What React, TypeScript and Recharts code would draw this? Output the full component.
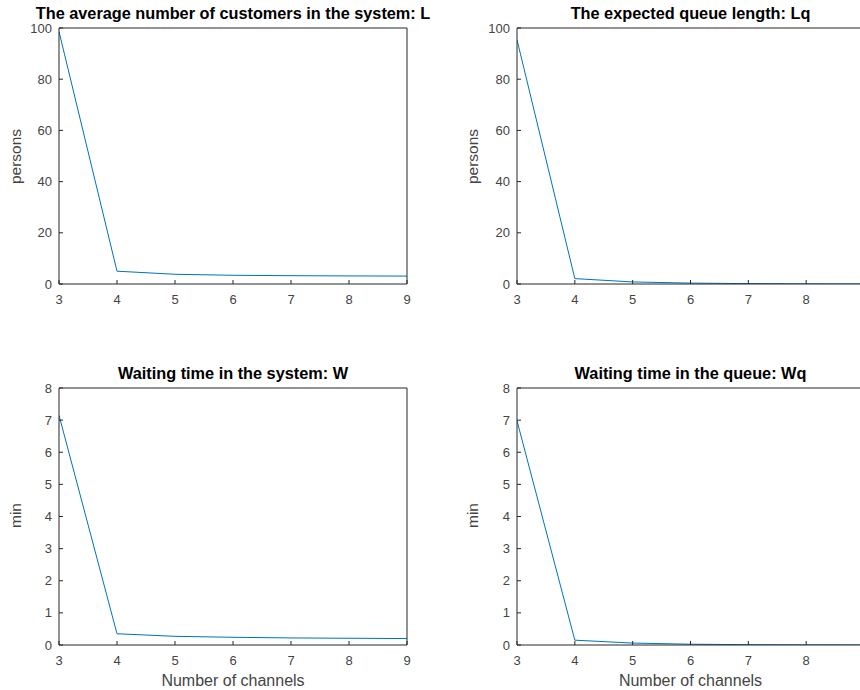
import React from 'react';
import { LineChart, Line, XAxis, YAxis } from 'recharts';

const channels = [3, 4, 5, 6, 7, 8, 9];
const avgCustomers = [98.6, 5.0, 3.8, 3.4, 3.25, 3.15, 3.1];
const queueLength = [95.4, 2.1, 0.8, 0.35, 0.15, 0.05, 0.02];
const waitSystem = [7.15, 0.35, 0.27, 0.24, 0.22, 0.21, 0.2];
const waitQueue = [6.98, 0.15, 0.06, 0.025, 0.01, 0.004, 0.001];

const xTicks = [3, 4, 5, 6, 7, 8, 9];
const personTicks = [0, 20, 40, 60, 80, 100];
const minuteTicks = [0, 1, 2, 3, 4, 5, 6, 7, 8];

const titles = [
  'The average number of customers in the system: L',
  'The expected queue length: Lq',
  'Waiting time in the system: W',
  'Waiting time in the queue: Wq',
];
const yLabels = ['persons', 'persons', 'min', 'min'];
const xLabel = 'Number of channels';

const FONT = '"Liberation Sans", Arial, Helvetica, sans-serif';
const AXIS = '#262626';
const TICKTXT = '#444444';
const LINE = '#0072BD';

const build = (vals: number[]) => channels.map((c, i) => ({ x: c, y: vals[i] }));

type PanelProps = {
  left: number;
  top: number;
  width: number;
  height: number;
  margin: { top: number; right: number; bottom: number; left: number };
  values: number[];
  yTicks: number[];
  yMax: number;
};

function Panel({ left, top, width, height, margin, values, yTicks, yMax }: PanelProps) {
  const data = build(values);
  const tickStyle = { fontSize: 13, fill: TICKTXT, fontFamily: FONT };
  const lineStyle = { stroke: AXIS, strokeWidth: 1 };
  return (
    <div style={{ position: 'absolute', left, top }}>
      <LineChart width={width} height={height} data={data} margin={margin}>
        <XAxis
          xAxisId="b"
          dataKey="x"
          type="number"
          domain={[3, 9]}
          ticks={xTicks}
          height={1}
          tickSize={-4}
          tickMargin={15}
          tick={tickStyle}
          axisLine={lineStyle}
          tickLine={lineStyle}
          allowDataOverflow
        />
        <XAxis
          xAxisId="t"
          orientation="top"
          dataKey="x"
          type="number"
          domain={[3, 9]}
          ticks={xTicks}
          height={1}
          tickSize={-4}
          tick={false}
          axisLine={lineStyle}
          tickLine={lineStyle}
          allowDataOverflow
        />
        <YAxis
          yAxisId="l"
          type="number"
          domain={[0, yMax]}
          ticks={yTicks}
          width={1}
          tickSize={-4}
          tickMargin={11}
          tick={tickStyle}
          axisLine={lineStyle}
          tickLine={lineStyle}
          allowDataOverflow
        />
        <YAxis
          yAxisId="r"
          orientation="right"
          type="number"
          domain={[0, yMax]}
          ticks={yTicks}
          width={1}
          tickSize={-4}
          tick={false}
          axisLine={lineStyle}
          tickLine={lineStyle}
          allowDataOverflow
        />
        <Line
          xAxisId="b"
          yAxisId="l"
          type="linear"
          dataKey="y"
          stroke={LINE}
          strokeWidth={1}
          dot={false}
          activeDot={false}
          isAnimationActive={false}
        />
      </LineChart>
    </div>
  );
}

export default function App() {
  const panels = [
    { left: 0, top: 0, cx: 233, ty: 19, lx: 20.5, ly: 156.5, values: avgCustomers, yTicks: personTicks, yMax: 100,
      margin: { top: 27, right: 22, bottom: 60, left: 58 }, width: 430 },
    { left: 430, top: 0, cx: 690.5, ty: 19, lx: 478, ly: 156.5, values: queueLength, yTicks: personTicks, yMax: 100,
      margin: { top: 27, right: 25, bottom: 60, left: 86 }, width: 460 },
    { left: 0, top: 345, cx: 233, ty: 379, lx: 20.5, ly: 515.5, values: waitSystem, yTicks: minuteTicks, yMax: 8,
      margin: { top: 42, right: 22, bottom: 44, left: 58 }, width: 430 },
    { left: 430, top: 345, cx: 690.5, ty: 379, lx: 478, ly: 515.5, values: waitQueue, yTicks: minuteTicks, yMax: 8,
      margin: { top: 42, right: 25, bottom: 44, left: 86 }, width: 460 },
  ];
  return (
    <div
      style={{
        position: 'fixed',
        left: 0,
        top: 0,
        width: 860,
        height: 690,
        overflow: 'hidden',
        background: '#ffffff',
        fontFamily: FONT,
      }}
    >
      {panels.map((p, i) => (
        <Panel
          key={i}
          left={p.left}
          top={p.top}
          width={p.width}
          height={345}
          margin={p.margin}
          values={p.values}
          yTicks={p.yTicks}
          yMax={p.yMax}
        />
      ))}
      <svg
        width={860}
        height={690}
        style={{ position: 'absolute', left: 0, top: 0, pointerEvents: 'none' }}
      >
        {panels.map((p, i) => (
          <g key={i}>
            <text x={p.cx} y={p.ty} textAnchor="middle" fontFamily={FONT} fontSize={16.3} fontWeight="bold" fill="#000">
              {titles[i]}
            </text>
            <text
              x={p.lx}
              y={p.ly}
              textAnchor="middle"
              fontFamily={FONT}
              fontSize={15.5}
              fill={TICKTXT}
              transform={`rotate(-90, ${p.lx}, ${p.ly})`}
            >
              {yLabels[i]}
            </text>
          </g>
        ))}
        <text x={233} y={686} textAnchor="middle" fontFamily={FONT} fontSize={16} fill={TICKTXT}>
          {xLabel}
        </text>
        <text x={690.5} y={686} textAnchor="middle" fontFamily={FONT} fontSize={16} fill={TICKTXT}>
          {xLabel}
        </text>
      </svg>
    </div>
  );
}
